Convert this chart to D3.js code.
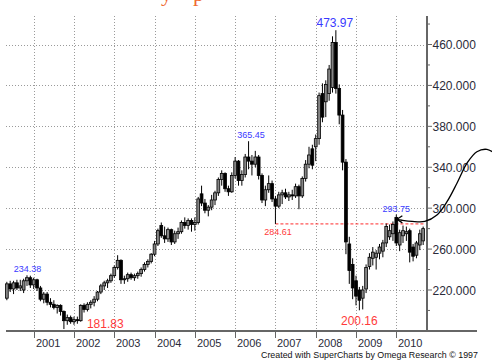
<!DOCTYPE html>
<html><head><meta charset="utf-8">
<script src="https://cdn.jsdelivr.net/npm/d3@7"></script>
<style>html,body{margin:0;padding:0;background:#fff;overflow:hidden}</style>
</head><body>
<svg id="c" width="492" height="364"></svg>
<script>
// ---- DATA (monthly candles, month start) ----
const months = [
"2000-05","2000-06","2000-07","2000-08","2000-09","2000-10","2000-11","2000-12",
"2001-01","2001-02","2001-03","2001-04","2001-05","2001-06","2001-07","2001-08","2001-09","2001-10","2001-11","2001-12",
"2002-01","2002-02","2002-03","2002-04","2002-05","2002-06","2002-07","2002-08","2002-09","2002-10","2002-11","2002-12",
"2003-01","2003-02","2003-03","2003-04","2003-05","2003-06","2003-07","2003-08","2003-09","2003-10","2003-11","2003-12",
"2004-01","2004-02","2004-03","2004-04","2004-05","2004-06","2004-07","2004-08","2004-09","2004-10","2004-11","2004-12",
"2005-01","2005-02","2005-03","2005-04","2005-05","2005-06","2005-07","2005-08","2005-09","2005-10","2005-11","2005-12",
"2006-01","2006-02","2006-03","2006-04","2006-05","2006-06","2006-07","2006-08","2006-09","2006-10","2006-11","2006-12",
"2007-01","2007-02","2007-03","2007-04","2007-05","2007-06","2007-07","2007-08","2007-09","2007-10","2007-11","2007-12",
"2008-01","2008-02","2008-03","2008-04","2008-05","2008-06","2008-07","2008-08","2008-09","2008-10","2008-11","2008-12",
"2009-01","2009-02","2009-03","2009-04","2009-05","2009-06","2009-07","2009-08","2009-09","2009-10","2009-11","2009-12",
"2010-01","2010-02","2010-03","2010-04","2010-05","2010-06","2010-07","2010-08","2010-09"];
const open = [
212,226,221,227,222,220,229,232,
225,230,222,211,216,208,206,203,205,199,190,193,
189,191,190,205,201,206,208,211,218,224,227,229,
234,242,249,230,231,235,232,234,236,240,245,248,
255,265,283,273,270,279,267,275,277,286,283,288,
284,286,314,305,298,301,308,315,328,334,319,316,
332,346,327,333,350,346,343,350,332,308,318,324,
309,302,313,315,311,313,312,321,312,329,343,358,
360,368,412,404,412,418,462,417,391,345,265,245,
229,220,212,221,243,251,252,256,258,266,272,275,
291,264,273,275,278,262,254,264,268];
const high = [
228,229,229,230,230,231,234.38,234,
232,231,224,218,218,212,210,206,206,200,196,195,
194,194,206,207,208,210,214,219,226,229,231,236,
244,254,250,234,237,237,236,238,242,247,250,256,
268,280,286,282,281,280,278,281,288,291,290,290,
291,311,322,309,303,313,317,330,337,335,322,335,
350,347,337,353,365.45,352,356,352,334,322,332,327,
312,316,318,319,316,318,324,323,331,347,360,362,
372,413,422,425,440,468,473.97,421,396,348,272,251,
234,223,224,245,256,262,259,265,269,285,284,287,
293.75,279,283,282,280,265,268,279,282];
const low = [
210,218,216,220,219,217,224,222,
221,219,209,207,205,203,201,197,195,181.83,186,187,
186,187,189,198,199,202,204,209,216,220,222,227,
232,240,226,226,228,230,229,231,233,238,242,246,
253,263,271,266,267,264,265,270,275,280,279,277,
278,284,302,295,292,298,303,312,322,316,312,315,
329,322,322,330,338,332,340,328,305,302,315,306,
284.61,300,304,309,307,308,310,299,310,326,339,338,
346,362,384,389,405,413,412,382,337,255,226,211,
205,200.16,201,217,240,244,240,250,252,262,269,268,
263,258,266,268,247,248,251,259,264];
const close = [
226,221,227,222,224,229,232,225,
230,222,211,216,208,206,203,205,199,190,193,189,
191,190,205,201,206,208,211,218,224,227,229,234,
242,249,230,231,235,232,234,236,240,245,248,255,
265,278,273,270,279,267,275,277,286,283,288,284,
286,309,305,298,301,308,315,328,334,319,316,332,
346,327,333,350,346,343,350,332,308,318,324,309,
302,313,315,311,313,312,321,312,329,343,352,342,
368,410,389,421,436,462,417,391,345,267,239,222,
214,210,220,242,252,257,256,262,266,282,278,284,
266,276,278,277,257,253,266,275,280];

const yearTicks = [2001,2002,2003,2004,2005,2006,2007,2008,2009,2010];
const yTicks = [220,260,300,340,380,420,460];
const yMinorTicks = [200,240,280,320,360,400,440,480];

// labelled extremes: [text, month, value, colour, font size, anchor, dx, dy]
const labels = [
  ["473.97","2008-07",473.97,"blue",12,"middle",-1,-3],
  ["365.45","2006-05",365.45,"blue",9,"middle",2.5,-3],
  ["234.38","2000-11",234.38,"blue",9,"middle",0.5,-3],
  ["293.75","2010-01",293.75,"blue",9,"middle",0,-2.5],
  ["284.61","2007-01",284.61,"red",9,"middle",2.5,11],
  ["181.83","2001-10",181.83,"red",12,"start",23,-1],
  ["200.16","2009-02",200.16,"red",12,"middle",0,15]
];
const supportLevel = 284.61, supportFrom = "2007-01", supportToIdx = 128.6;
// arrow path in (month index, value)
const arrowIdx = [120.2,121.7,124.7,128.5,132.1,135.1,138.1,141.1,144.0,147.0,149.3];
const arrowVal = [289.1,288.2,287.0,287.0,293.3,306.3,324.6,344.2,355.2,357.5,353.5];

// ---- DRAW ----
const svg = d3.select("#c");
const L=6, R=427, T=16, B=331;
const mi = s => { const [Y,M] = s.split("-").map(Number); return (Y-2000)*12 + (M-1); };
const x = d3.scaleLinear().domain([12,120]).range([33.7,396.3]);
const y = d3.scaleLinear().domain([220,460]).range([290,44.5]);
const COL = {blue:"#3a3aff", red:"#ff3a3a"};

// cut-off title (only descenders visible)
svg.append("text").attr("x",161).attr("y",1).attr("font-family","Liberation Serif, Times New Roman, serif")
  .attr("font-size",22).attr("fill","#ef6a30").text("y");
svg.append("text").attr("x",193).attr("y",1).attr("font-family","Liberation Serif, Times New Roman, serif")
  .attr("font-size",22).attr("fill","#ef6a30").text("p");

// grid
const grid = svg.append("g").attr("stroke","#9a9a9a").attr("stroke-width",1).attr("stroke-dasharray","1,2");
yTicks.forEach(v=>{
  const yy = Math.round(y(v))+0.5;
  grid.append("line").attr("x1",L).attr("x2",R).attr("y1",yy).attr("y2",yy);
});
yearTicks.forEach(yr=>{
  const xx = Math.round(x((yr-2000)*12))+0.5;
  grid.append("line").attr("x1",xx).attr("x2",xx).attr("y1",T).attr("y2",B);
});

// support line
svg.append("line").attr("x1",x(mi(supportFrom))).attr("x2",x(supportToIdx))
  .attr("y1",y(supportLevel)).attr("y2",y(supportLevel))
  .attr("stroke","#ff2a2a").attr("stroke-width",1).attr("stroke-dasharray","3,2");

// candles
const data = months.map((m,i)=>({i:mi(m),o:open[i],h:high[i],l:low[i],c:close[i]}));
const bw = 2.8;
const cg = svg.append("g");
data.forEach(d=>{
  const cx = x(d.i);
  cg.append("line").attr("x1",cx).attr("x2",cx).attr("y1",y(d.h)).attr("y2",y(d.l))
    .attr("stroke","#000").attr("stroke-width",1);
  const up = d.c >= d.o;
  const top = y(Math.max(d.o,d.c)), bot = y(Math.min(d.o,d.c));
  cg.append("rect").attr("x",cx-bw/2).attr("width",bw).attr("y",top).attr("height",Math.max(1,bot-top))
    .attr("fill", up ? "#858585" : "#000").attr("stroke","#000").attr("stroke-width",0.8);
});

// axes
const axisCol = "#666";
svg.append("line").attr("x1",R).attr("x2",R).attr("y1",T).attr("y2",B+1).attr("stroke",axisCol).attr("stroke-width",2);
svg.append("line").attr("x1",L).attr("x2",477).attr("y1",B).attr("y2",B).attr("stroke",axisCol).attr("stroke-width",2);
yTicks.forEach(v=>{
  const yy = y(v);
  svg.append("line").attr("x1",R).attr("x2",R+5).attr("y1",yy).attr("y2",yy).attr("stroke",axisCol).attr("stroke-width",1);
  svg.append("text").attr("x",R+5.5).attr("y",yy+4.5).attr("font-family","Liberation Sans, Arial, sans-serif")
    .attr("font-size",12).attr("fill","#2b2b3a").text(d3.format(".3f")(v));
});
yMinorTicks.forEach(v=>{
  const yy = y(v);
  svg.append("line").attr("x1",R).attr("x2",R+3).attr("y1",yy).attr("y2",yy).attr("stroke",axisCol).attr("stroke-width",1);
});
yearTicks.forEach(yr=>{
  const xx = Math.round(x((yr-2000)*12))+0.5;
  svg.append("line").attr("x1",xx).attr("x2",xx).attr("y1",B).attr("y2",B+7).attr("stroke",axisCol).attr("stroke-width",1);
  svg.append("text").attr("x",xx+1.5).attr("y",347).attr("font-family","Liberation Sans, Arial, sans-serif")
    .attr("font-size",11).attr("fill","#2b2b3a").text(yr);
});

// labels
labels.forEach(([t,m,v,c,fs,anc,dx,dy])=>{
  svg.append("text").attr("x",x(mi(m))+dx).attr("y",y(v)+dy).attr("text-anchor",anc)
    .attr("font-family","Liberation Sans, Arial, sans-serif").attr("font-size",fs).attr("fill",COL[c]).text(t);
});

// arrow
const pts = arrowIdx.map((a,i)=>[x(a),y(arrowVal[i])]);
svg.append("path").attr("d", d3.line().curve(d3.curveCatmullRom)(pts.slice().reverse()))
  .attr("fill","none").attr("stroke","#000").attr("stroke-width",1.3);
const tip = pts[0];
svg.append("path").attr("d", d3.line()([[x(121.8),y(292.6)],tip,[x(121.8),y(285.6)]]))
  .attr("fill","none").attr("stroke","#000").attr("stroke-width",1.3);

// footer
svg.append("text").attr("x",261).attr("y",358).attr("font-family","Liberation Sans, Arial, sans-serif")
  .attr("font-size",9.2).attr("fill","#111").attr("textLength",217).attr("lengthAdjust","spacingAndGlyphs")
  .text("Created with SuperCharts by Omega Research \u00A9 1997");
</script>
</body></html>
